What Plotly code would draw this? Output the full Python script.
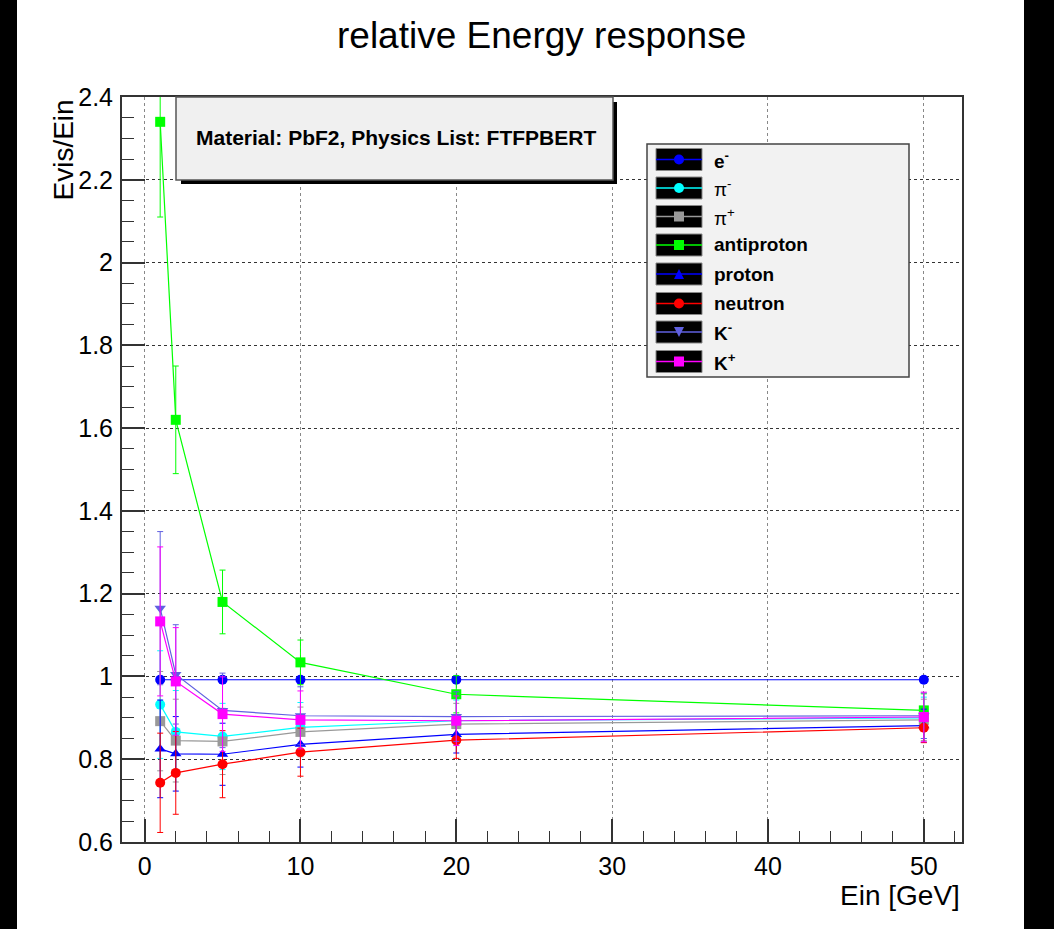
import plotly.graph_objects as go

# ---------------- data ----------------
energy = [1, 2, 5, 10, 20, 50]

e_minus = [0.992, 0.992, 0.992, 0.992, 0.992, 0.992]
e_minus_err = [0.006, 0.005, 0.004, 0.004, 0.003, 0.003]

pi_minus = [0.932, 0.866, 0.855, 0.877, 0.893, 0.900]
pi_minus_err = [0.13, 0.10, 0.08, 0.06, 0.05, 0.05]

pi_plus = [0.892, 0.845, 0.843, 0.866, 0.885, 0.895]
pi_plus_err = [0.12, 0.10, 0.08, 0.06, 0.05, 0.05]

antiproton = [2.34, 1.62, 1.18, 1.034, 0.957, 0.918]
antiproton_err = [0.23, 0.13, 0.077, 0.054, 0.045, 0.04]

proton = [0.825, 0.813, 0.812, 0.836, 0.860, 0.881]
proton_err = [0.118, 0.09, 0.075, 0.055, 0.045, 0.04]

neutron = [0.743, 0.767, 0.788, 0.817, 0.846, 0.876]
neutron_err = [0.12, 0.10, 0.081, 0.058, 0.044, 0.036]

k_minus = [1.165, 1.005, 0.918, 0.905, 0.903, 0.905]
k_minus_err = [0.185, 0.12, 0.09, 0.07, 0.06, 0.055]

k_plus = [1.133, 0.988, 0.909, 0.895, 0.893, 0.902]
k_plus_err = [0.18, 0.13, 0.09, 0.07, 0.06, 0.06]

labels = ["<b>e<sup>-</sup></b>", "π<sup>-</sup>", "π<sup>+</sup>", "<b>antiproton</b>",
          "<b>proton</b>", "<b>neutron</b>", "<b>K<sup>-</sup></b>", "<b>K<sup>+</sup></b>"]

x_ticks = [0, 10, 20, 30, 40, 50]
y_ticks = [0.6, 0.8, 1.0, 1.2, 1.4, 1.6, 1.8, 2.0, 2.2, 2.4]
y_ticktext = ["0.6", "0.8", "1", "1.2", "1.4", "1.6", "1.8", "2", "2.2", "2.4"]

# ---------------- styling ----------------
W, H = 1054, 929
L, R, T, B = 122, 962, 97, 842
FONT = "Arial, Liberation Sans, sans-serif"

series = [
    (e_minus, e_minus_err, "#0000ff", "circle", 10),
    (pi_minus, pi_minus_err, "#00ffff", "circle", 10),
    (pi_plus, pi_plus_err, "#999999", "square", 10),
    (antiproton, antiproton_err, "#00ff00", "square", 10),
    (proton, proton_err, "#0000ff", "triangle-up", 10),
    (neutron, neutron_err, "#ff0000", "circle", 10),
    (k_minus, k_minus_err, "#6060e0", "triangle-down", 10),
    (k_plus, k_plus_err, "#ff00ff", "square", 10),
]


def px(xp):
    return (xp - L) / (R - L)


def py(yp):
    return (B - yp) / (B - T)


fig = go.Figure()
for (vals, errs, col, sym, sz), lab in zip(series, labels):
    fig.add_trace(go.Scatter(
        x=energy, y=vals, mode="lines+markers", name=lab,
        line=dict(color=col, width=1.2),
        marker=dict(color=col, symbol=sym, size=sz, line=dict(width=0)),
        error_y=dict(type="data", array=errs, visible=True, color=col,
                     thickness=1, width=3),
        showlegend=False,
    ))

shapes = []
annotations = []

# black side bands of the canvas
shapes.append(dict(type="rect", xref="paper", yref="paper",
                   x0=px(0), x1=px(17), y0=py(H), y1=py(0),
                   fillcolor="black", line=dict(width=0), layer="above"))
shapes.append(dict(type="rect", xref="paper", yref="paper",
                   x0=px(1024), x1=px(W), y0=py(H), y1=py(0),
                   fillcolor="black", line=dict(width=0), layer="above"))

# info box with shadow
shapes.append(dict(type="rect", xref="paper", yref="paper",
                   x0=px(181), x1=px(617), y0=py(184), y1=py(102),
                   fillcolor="black", line=dict(width=0), layer="above"))
shapes.append(dict(type="rect", xref="paper", yref="paper",
                   x0=px(176), x1=px(613), y0=py(180), y1=py(97),
                   fillcolor="#f0f0f0", line=dict(color="#555555", width=1.5),
                   layer="above"))
annotations.append(dict(xref="paper", yref="paper", x=px(396), y=py(137),
                        text="<b>Material: PbF2, Physics List: FTFPBERT</b>",
                        showarrow=False, xanchor="center", yanchor="middle",
                        font=dict(family=FONT, size=21, color="black")))

# legend box
shapes.append(dict(type="rect", xref="paper", yref="paper",
                   x0=px(647), x1=px(909), y0=py(377), y1=py(144),
                   fillcolor="#f2f2f2", line=dict(color="#444444", width=1.5),
                   layer="above"))
row_y = [159.5, 188, 216.5, 245, 274, 303.5, 332, 361.5]
kx0, kx1 = 656, 702
kc = (kx0 + kx1) / 2
ms = 5
for (vals, errs, col, sym, sz), lab, yy in zip(series, labels, row_y):
    shapes.append(dict(type="rect", xref="paper", yref="paper",
                       x0=px(kx0), x1=px(kx1), y0=py(yy + 11), y1=py(yy - 11),
                       fillcolor="black", line=dict(color="#888888", width=1),
                       layer="above"))
    shapes.append(dict(type="line", xref="paper", yref="paper",
                       x0=px(kx0), x1=px(kx1), y0=py(yy), y1=py(yy),
                       line=dict(color=col, width=1.5), layer="above"))
    if sym == "circle":
        shapes.append(dict(type="circle", xref="paper", yref="paper",
                           x0=px(kc - ms), x1=px(kc + ms), y0=py(yy + ms), y1=py(yy - ms),
                           fillcolor=col, line=dict(width=0), layer="above"))
    elif sym == "square":
        shapes.append(dict(type="rect", xref="paper", yref="paper",
                           x0=px(kc - ms), x1=px(kc + ms), y0=py(yy + ms), y1=py(yy - ms),
                           fillcolor=col, line=dict(width=0), layer="above"))
    elif sym == "triangle-up":
        path = "M %f,%f L %f,%f L %f,%f Z" % (px(kc - ms), py(yy + ms), px(kc + ms), py(yy + ms),
                                              px(kc), py(yy - ms))
        shapes.append(dict(type="path", xref="paper", yref="paper", path=path,
                           fillcolor=col, line=dict(width=0), layer="above"))
    else:
        path = "M %f,%f L %f,%f L %f,%f Z" % (px(kc - ms), py(yy - ms), px(kc + ms), py(yy - ms),
                                              px(kc), py(yy + ms))
        shapes.append(dict(type="path", xref="paper", yref="paper", path=path,
                           fillcolor=col, line=dict(width=0), layer="above"))
    annotations.append(dict(xref="paper", yref="paper", x=px(712), y=py(yy),
                            text=lab, showarrow=False, xanchor="left", yanchor="middle",
                            font=dict(family=FONT, size=19, color="black")))

# title and axis titles
annotations.append(dict(xref="paper", yref="paper", x=px(541), y=py(36),
                        text="relative Energy response", showarrow=False,
                        xanchor="center", yanchor="middle",
                        font=dict(family=FONT, size=37, color="black")))
annotations.append(dict(xref="paper", yref="paper", x=px(962), y=py(895),
                        text="Ein [GeV]", showarrow=False,
                        xanchor="right", yanchor="middle",
                        font=dict(family=FONT, size=28, color="black")))
annotations.append(dict(xref="paper", yref="paper", x=px(63), y=py(98),
                        text="Evis/Ein", showarrow=False, textangle=-90,
                        xanchor="center", yanchor="top",
                        font=dict(family=FONT, size=28, color="black")))

fig.update_layout(
    width=W, height=H,
    margin=dict(l=L, r=W - R, t=T, b=H - B, pad=0),
    paper_bgcolor="white", plot_bgcolor="white",
    shapes=shapes, annotations=annotations, showlegend=False,
    font=dict(family=FONT, color="black"),
)
fig.update_xaxes(
    range=[-1.45, 52.45], tickvals=x_ticks, ticks="inside", ticklen=23,
    tickwidth=1.5, tickcolor="#333333",
    minor=dict(dtick=2, tick0=0, ticks="inside", ticklen=11, tickwidth=1.2,
               tickcolor="#333333", showgrid=False),
    showgrid=True, gridcolor="#888888", griddash="dot", gridwidth=1,
    showline=True, linecolor="#333333", linewidth=2, mirror=True,
    zeroline=False, tickfont=dict(family=FONT, size=25, color="black"),
    ticklabelstandoff=1,
)
fig.update_yaxes(
    range=[0.6, 2.4], tickvals=y_ticks, ticktext=y_ticktext, ticks="inside",
    ticklen=23, tickwidth=1.5, tickcolor="#333333",
    minor=dict(dtick=0.05, tick0=0.6, ticks="inside", ticklen=12, tickwidth=1.2,
               tickcolor="#333333", showgrid=False),
    showgrid=True, gridcolor="#333333", griddash="dot", gridwidth=1,
    showline=True, linecolor="#333333", linewidth=2, mirror=True,
    zeroline=False, tickfont=dict(family=FONT, size=25, color="black"),
    ticklabelstandoff=2,
)

fig.write_html("out.html")
